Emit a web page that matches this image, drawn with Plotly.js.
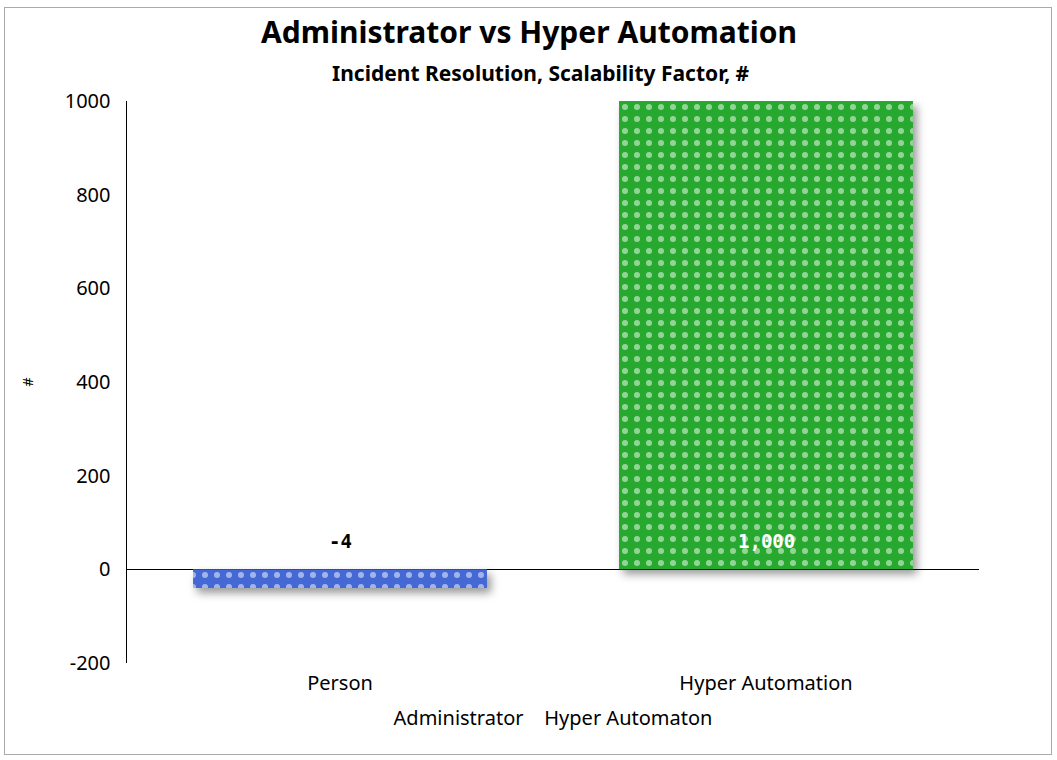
<!DOCTYPE html>
<html>
<head>
<meta charset="utf-8">
<script src="https://cdn.plot.ly/plotly-3.0.1.min.js"></script>
<style>
  html, body { margin: 0; padding: 0; background: #fff; }
  #wrap { position: relative; width: 1057px; height: 760px; }
  #frame { position: absolute; left: 4px; top: 7px; width: 1048px; height: 748px; border: 1px solid #aaaaaa; box-sizing: border-box; pointer-events: none; z-index: 5; }
  #chart { position: absolute; left: 0; top: 0; width: 1057px; height: 760px; }
  .trace.bars .point path { filter: drop-shadow(4px 5px 4px rgba(0,0,0,0.40)); }
</style>
</head>
<body>
<div id="wrap">
  <div id="chart"></div>
  <div id="frame"></div>
</div>
<script>
// ---- data ----
const categories = ["Person", "Hyper Automation"];
const values = [-40, 1000];
const valueLabels = ["-4", "1,000"];
const seriesNames = ["Administrator", "Hyper Automaton"];
const barColors = ["#4468d4", "#27a82e"];
const labelColors = ["#000000", "#ffffff"];
const yTickValues = [-200, 0, 200, 400, 600, 800, 1000];
const titleText = "Administrator vs Hyper Automation";
const subtitleText = "Incident Resolution, Scalability Factor, #";
const yAxisTitle = "#";

const FONT = "'Segoe UI', 'Noto Sans', 'Open Sans', sans-serif";

const trace = {
  type: "bar",
  x: categories,
  y: values,
  width: 0.69,
  marker: {
    color: barColors,
    line: { width: 0 },
    pattern: { shape: ".", fgcolor: "rgba(255,255,255,0.28)", size: 12, solidity: 0.2, fillmode: "overlay" }
  },
  hoverinfo: "none",
  showlegend: false
};

const annotations = categories.map((c, i) => ({
  x: c, y: 0, xref: "x", yref: "y",
  text: "<b>" + valueLabels[i] + "</b>",
  showarrow: false, yanchor: "bottom", yshift: 15,
  font: { family: "'DejaVu Sans Mono', monospace", size: 19, color: labelColors[i] }
}));
annotations.push({
  text: "<b>" + subtitleText + "</b>",
  xref: "paper", yref: "paper", x: (541 - 127) / 852, xanchor: "center",
  y: 1.0498, yanchor: "middle", showarrow: false,
  font: { family: FONT, size: 21, color: "#000" }
});

const layout = {
  width: 1057, height: 760,
  margin: { l: 127, r: 78, t: 101, b: 97, pad: 0 },
  paper_bgcolor: "#ffffff", plot_bgcolor: "#ffffff",
  font: { family: FONT, color: "#000" },
  title: {
    text: "<b>" + titleText + "</b>",
    x: 529 / 1057, xref: "container", xanchor: "center",
    y: 1 - 32 / 760, yanchor: "middle",
    font: { family: FONT, size: 30, color: "#000" }
  },
  xaxis: {
    type: "category",
    showline: false, showgrid: false, zeroline: false,
    ticks: "", tickfont: { family: FONT, size: 20, color: "#000" },
    ticklabelstandoff: 6,
    title: { text: seriesNames.join("&nbsp;&nbsp;&nbsp;&nbsp;"), font: { family: FONT, size: 20, color: "#000" }, standoff: 15 }
  },
  yaxis: {
    range: [-200, 1000],
    tickvals: yTickValues,
    ticktext: yTickValues.map(String),
    showline: true, linecolor: "#000", linewidth: 1.5,
    showgrid: false,
    zeroline: true, zerolinecolor: "#000", zerolinewidth: 1.5,
    ticks: "", ticklabelstandoff: 11,
    tickfont: { family: FONT, size: 20, color: "#000" },
    title: { text: yAxisTitle, font: { family: FONT, size: 14, color: "#000" }, standoff: 28 }
  },
  annotations: annotations,
  bargap: 0.31
};

Plotly.newPlot("chart", [trace], layout, { displayModeBar: false, staticPlot: true });
</script>
</body>
</html>
